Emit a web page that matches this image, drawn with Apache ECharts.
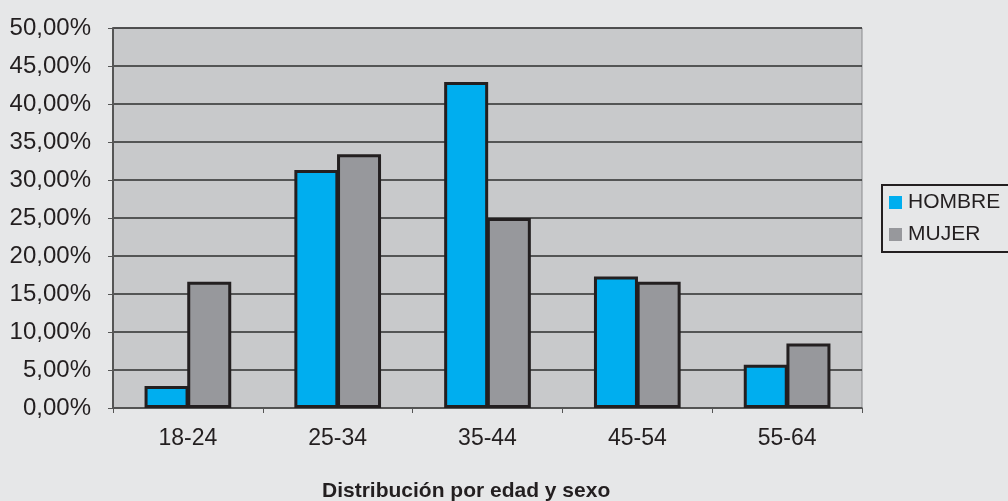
<!DOCTYPE html>
<html><head><meta charset="utf-8">
<script src="https://cdn.jsdelivr.net/npm/echarts@6/dist/echarts.min.js"></script>
<style>html,body{margin:0;padding:0;background:#e6e7e8;}#c{width:1008px;height:501px;}</style>
</head><body><div id="c"></div>
<script>
const categories = ['18-24','25-34','35-44','45-54','55-64'];
const hombre = [2.9, 31.3, 42.9, 17.3, 5.7];
const mujer = [16.6, 33.4, 25.0, 16.6, 8.5];
const seriesNames = ['HOMBRE','MUJER'];
const titleText = 'Distribución por edad y sexo';

const chart = echarts.init(document.getElementById('c'), null, {renderer:'canvas'});
const font = 'Liberation Sans, Arial, sans-serif';
chart.setOption({
  backgroundColor: '#e6e7e8',
  animation: false,
  title: {
    text: titleText, left: 322, top: 481, padding: 0,
    textStyle: {fontFamily: font, fontSize: 21, fontWeight: 'bold', color: '#231f20'}
  },
  legend: {
    orient: 'vertical', left: 882, top: 185,
    data: seriesNames,
    itemWidth: 13, itemHeight: 13, itemGap: 11,
    icon: 'rect',
    itemStyle: {borderWidth: 0},
    borderColor: '#231f20', borderWidth: 2, borderRadius: 0,
    padding: [7, 12, 7, 7],
    textStyle: {fontFamily: font, fontSize: 21, color: '#231f20', padding: [0,0,0,1]}
  },
  grid: {left: 113, top: 28, width: 749, height: 380, show: true,
    backgroundColor: '#c8c9cb', borderColor: '#8a8b8d', borderWidth: 1},
  xAxis: {
    type: 'category', data: categories,
    axisLine: {lineStyle: {color: '#555', width: 1.5}},
    axisTick: {show: true, length: 5, lineStyle: {color: '#555'}},
    axisLabel: {fontFamily: font, fontSize: 23, color: '#231f20', margin: 19}
  },
  yAxis: {
    type: 'value', min: 0, max: 50, interval: 5,
    axisLine: {show: true, lineStyle: {color: '#555', width: 2}},
    axisTick: {show: true, length: 5, lineStyle: {color: '#555'}},
    splitLine: {lineStyle: {color: '#2e2e2e', width: 1.5}},
    axisLabel: {fontFamily: font, fontSize: 24, color: '#231f20', margin: 22,
      formatter: v => v.toFixed(2).replace('.', ',') + '%'}
  },
  series: [
    {name: seriesNames[0], type: 'bar', data: hombre, barGap: '-3%', barWidth: 44,
      itemStyle: {color: '#00aeef', borderColor: '#231f20', borderWidth: 3}},
    {name: seriesNames[1], type: 'bar', data: mujer, barGap: '-3%', barWidth: 44,
      itemStyle: {color: '#97989c', borderColor: '#231f20', borderWidth: 3}}
  ]
});
</script></body></html>
